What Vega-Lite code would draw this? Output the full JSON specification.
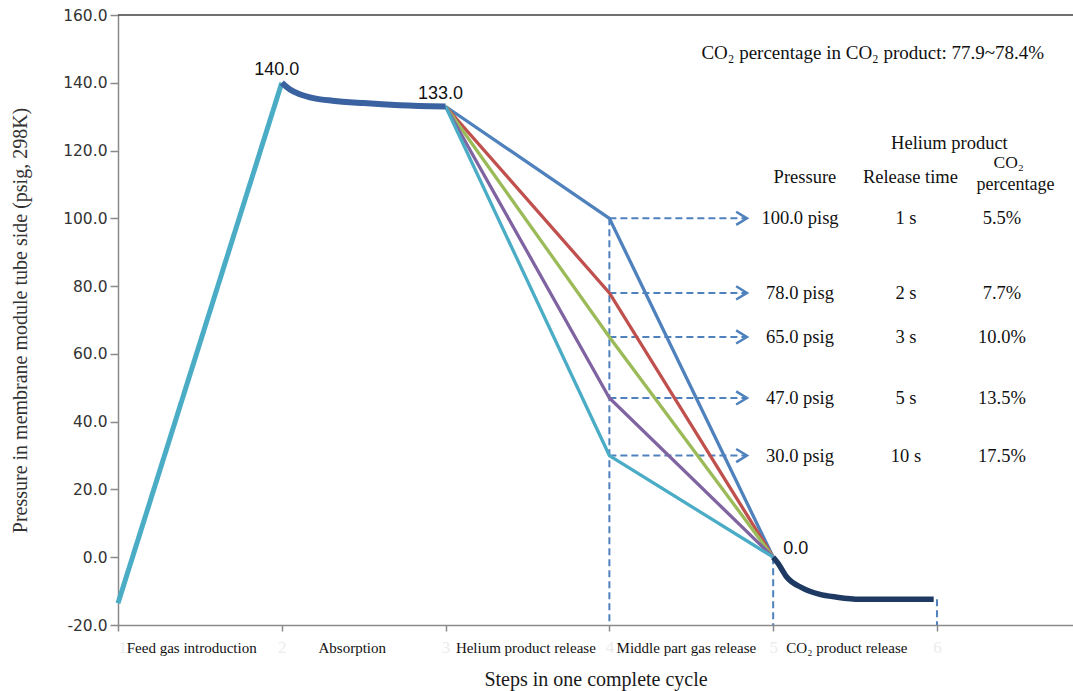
{
  "$schema": "https://vega.github.io/schema/vega-lite/v6.json",
  "width": 955,
  "height": 610,
  "autosize": {"type": "none"},
  "padding": {"left": 118, "top": 15, "right": 0, "bottom": 66},
  "background": "white",
  "config": {"view": {"stroke": null}},
  "datasets": {
    "curves": [
      {"series": "feed", "step": 1, "p": -13.6},
      {"series": "feed", "step": 2, "p": 140},
      {"series": "absorption", "step": 2, "p": 140},
      {"series": "absorption", "step": 2.05, "p": 138},
      {"series": "absorption", "step": 2.11, "p": 136.6},
      {"series": "absorption", "step": 2.2, "p": 135.4},
      {"series": "absorption", "step": 2.31, "p": 134.7},
      {"series": "absorption", "step": 2.5, "p": 134},
      {"series": "absorption", "step": 2.72, "p": 133.4},
      {"series": "absorption", "step": 3, "p": 133},
      {"series": "co2", "step": 5, "p": 0},
      {"series": "co2", "step": 5.03, "p": -1.8},
      {"series": "co2", "step": 5.08, "p": -5.7},
      {"series": "co2", "step": 5.18, "p": -9.1},
      {"series": "co2", "step": 5.28, "p": -10.9},
      {"series": "co2", "step": 5.39, "p": -11.8},
      {"series": "co2", "step": 5.53, "p": -12.4},
      {"series": "co2", "step": 5.98, "p": -12.4}
    ],
    "release": [
      {"series": "r100", "step": 3, "p": 133}, {"series": "r100", "step": 4, "p": 100}, {"series": "r100", "step": 5, "p": 0},
      {"series": "r78", "step": 3, "p": 133}, {"series": "r78", "step": 4, "p": 78}, {"series": "r78", "step": 5, "p": 0},
      {"series": "r65", "step": 3, "p": 133}, {"series": "r65", "step": 4, "p": 65}, {"series": "r65", "step": 5, "p": 0},
      {"series": "r47", "step": 3, "p": 133}, {"series": "r47", "step": 4, "p": 47}, {"series": "r47", "step": 5, "p": 0},
      {"series": "r30", "step": 3, "p": 133}, {"series": "r30", "step": 4, "p": 30}, {"series": "r30", "step": 5, "p": 0}
    ],
    "table": [
      {"p": 100, "plabel": "100.0 pisg", "time": "1 s", "co2": "5.5%"},
      {"p": 78, "plabel": "78.0 pisg", "time": "2 s", "co2": "7.7%"},
      {"p": 65, "plabel": "65.0 psig", "time": "3 s", "co2": "10.0%"},
      {"p": 47, "plabel": "47.0 psig", "time": "5 s", "co2": "13.5%"},
      {"p": 30, "plabel": "30.0 psig", "time": "10 s", "co2": "17.5%"}
    ],
    "drops": [
      {"step": 4, "top": 100},
      {"step": 5, "top": 0},
      {"step": 6, "top": -12.4}
    ],
    "steps": [
      {"mid": 1.45, "name": "Feed gas introduction"},
      {"mid": 2.43, "name": "Absorption"},
      {"mid": 3.49, "name": "Helium  product release"},
      {"mid": 4.47, "name": "Middle part gas release"},
      {"mid": 5.45, "name": "CO₂ product release"}
    ],
    "peaks": [
      {"step": 2, "p": 140},
      {"step": 3, "p": 133}
    ],
    "bottom": [
      {"step": 5, "p": 0}
    ],
    "one": [{}]
  },
  "layer": [
    {
      "data": {"name": "steps"},
      "mark": {"type": "text", "font": "Liberation Serif", "fontSize": 15, "color": "#111", "baseline": "middle", "dy": 23},
      "encoding": {
        "x": {
          "field": "mid", "type": "quantitative",
          "scale": {"domain": [1, 6.8305], "nice": false, "zero": false},
          "axis": {
            "values": [1, 2, 3, 4, 5, 6], "format": "d", "grid": false,
            "domainColor": "#8a8a8a", "domainWidth": 1.5, "tickColor": "#8a8a8a", "tickWidth": 1.5, "tickSize": 6,
            "labelFont": "Liberation Serif", "labelFontSize": 17, "labelColor": "#ececec", "labelPadding": 8,
            "title": "Steps in one complete cycle", "titleFont": "Liberation Serif", "titleFontSize": 20,
            "titleFontWeight": "normal", "titleColor": "#1a1a1a", "titleY": 54, "titleBaseline": "middle"
          }
        },
        "y": {
          "datum": -20, "type": "quantitative",
          "scale": {"domain": [-20, 160], "nice": false, "zero": false},
          "axis": {
            "values": [-20, 0, 20, 40, 60, 80, 100, 120, 140, 160], "grid": false,
            "labelExpr": "replace(format(datum.value, '.1f'), '\u2212', '-')",
            "domainColor": "#8a8a8a", "domainWidth": 1.5, "tickColor": "#8a8a8a", "tickWidth": 1.5, "tickSize": 8,
            "labelFont": "DejaVu Sans", "labelFontSize": 15.5, "labelColor": "#333", "labelPadding": 3,
            "title": "Pressure in membrane module tube side (psig, 298K)", "titleFont": "Liberation Serif",
            "titleFontSize": 20, "titleFontWeight": "normal", "titleColor": "#333", "titleX": -98, "titleBaseline": "middle"
          }
        },
        "text": {"field": "name"}
      }
    },
    {
      "data": {"name": "one"},
      "mark": {"type": "rule", "color": "#404040", "strokeWidth": 1.5},
      "encoding": {"y": {"datum": 160}}
    },
    {
      "data": {"name": "drops"},
      "mark": {"type": "rule", "color": "#4F81BD", "strokeWidth": 2, "strokeDash": [7, 4]},
      "encoding": {
        "x": {"field": "step", "type": "quantitative"},
        "y": {"field": "top", "type": "quantitative"},
        "y2": {"datum": -20}
      }
    },
    {
      "data": {"name": "table"},
      "mark": {"type": "rule", "color": "#4F81BD", "strokeWidth": 2, "strokeDash": [7, 4]},
      "encoding": {
        "x": {"datum": 4},
        "x2": {"datum": 4.835},
        "y": {"field": "p", "type": "quantitative"}
      }
    },
    {
      "data": {"name": "table"},
      "mark": {"type": "point", "shape": "M-1.8,-1.1L0,0L-1.8,1.1", "size": 144, "filled": false, "stroke": "#4F81BD", "strokeWidth": 2.5, "opacity": 1},
      "encoding": {
        "x": {"datum": 4.84},
        "y": {"field": "p", "type": "quantitative"}
      }
    },
    {
      "data": {"name": "release"},
      "mark": {"type": "line", "strokeWidth": 3.3},
      "encoding": {
        "x": {"field": "step", "type": "quantitative"},
        "y": {"field": "p", "type": "quantitative"},
        "color": {
          "field": "series", "type": "nominal", "legend": null,
          "scale": {"domain": ["r100", "r78", "r65", "r47", "r30"], "range": ["#4F81BD", "#C0504D", "#9BBB59", "#8064A2", "#4BACC6"]}
        }
      }
    },
    {
      "data": {"name": "curves"},
      "transform": [{"filter": "datum.series === 'feed'"}],
      "mark": {"type": "line", "color": "#4BACC6", "strokeWidth": 5},
      "encoding": {
        "x": {"field": "step", "type": "quantitative"},
        "y": {"field": "p", "type": "quantitative"}
      }
    },
    {
      "data": {"name": "curves"},
      "transform": [{"filter": "datum.series === 'absorption'"}],
      "mark": {"type": "line", "color": "#3A62A0", "strokeWidth": 6, "interpolate": "monotone"},
      "encoding": {
        "x": {"field": "step", "type": "quantitative"},
        "y": {"field": "p", "type": "quantitative"}
      }
    },
    {
      "data": {"name": "curves"},
      "transform": [{"filter": "datum.series === 'co2'"}],
      "mark": {"type": "line", "color": "#1F3A62", "strokeWidth": 5.5, "interpolate": "monotone"},
      "encoding": {
        "x": {"field": "step", "type": "quantitative"},
        "y": {"field": "p", "type": "quantitative"}
      }
    },
    {
      "data": {"name": "peaks"},
      "mark": {"type": "text", "font": "Liberation Sans", "fontSize": 18, "color": "#111", "baseline": "middle", "dx": -5, "dy": -13},
      "encoding": {
        "x": {"field": "step", "type": "quantitative"},
        "y": {"field": "p", "type": "quantitative"},
        "text": {"field": "p", "type": "quantitative", "format": ".1f"}
      }
    },
    {
      "data": {"name": "bottom"},
      "mark": {"type": "text", "font": "Liberation Sans", "fontSize": 18, "color": "#111", "align": "left", "baseline": "middle", "dx": 10, "dy": -8},
      "encoding": {
        "x": {"field": "step", "type": "quantitative"},
        "y": {"field": "p", "type": "quantitative"},
        "text": {"field": "p", "type": "quantitative", "format": ".1f"}
      }
    },
    {
      "data": {"name": "table"},
      "mark": {"type": "text", "font": "Liberation Serif", "fontSize": 18.5, "color": "#111", "baseline": "middle"},
      "encoding": {
        "x": {"datum": 5.164},
        "y": {"field": "p", "type": "quantitative"},
        "text": {"field": "plabel"}
      }
    },
    {
      "data": {"name": "table"},
      "mark": {"type": "text", "font": "Liberation Serif", "fontSize": 18.5, "color": "#111", "baseline": "middle"},
      "encoding": {
        "x": {"datum": 5.811},
        "y": {"field": "p", "type": "quantitative"},
        "text": {"field": "time"}
      }
    },
    {
      "data": {"name": "table"},
      "mark": {"type": "text", "font": "Liberation Serif", "fontSize": 18.5, "color": "#111", "baseline": "middle"},
      "encoding": {
        "x": {"datum": 6.397},
        "y": {"field": "p", "type": "quantitative"},
        "text": {"field": "co2"}
      }
    },
    {
      "data": {"name": "one"},
      "mark": {"type": "text", "text": "CO₂ percentage in CO₂ product: 77.9~78.4%", "font": "Liberation Serif", "fontSize": 19, "color": "#111", "baseline": "middle"},
      "encoding": {"x": {"datum": 5.608}, "y": {"datum": 148.7}}
    },
    {
      "data": {"name": "one"},
      "mark": {"type": "text", "text": "Helium product", "font": "Liberation Serif", "fontSize": 18.5, "color": "#111", "baseline": "middle"},
      "encoding": {"x": {"datum": 6.076}, "y": {"datum": 122.3}}
    },
    {
      "data": {"name": "one"},
      "mark": {"type": "text", "text": "Pressure", "font": "Liberation Serif", "fontSize": 18.5, "color": "#111", "baseline": "middle"},
      "encoding": {"x": {"datum": 5.194}, "y": {"datum": 112.3}}
    },
    {
      "data": {"name": "one"},
      "mark": {"type": "text", "text": "Release time", "font": "Liberation Serif", "fontSize": 18.5, "color": "#111", "baseline": "middle"},
      "encoding": {"x": {"datum": 5.838}, "y": {"datum": 112.3}}
    },
    {
      "data": {"name": "one"},
      "mark": {"type": "text", "text": "CO₂", "font": "Liberation Serif", "fontSize": 17.5, "color": "#111", "baseline": "middle"},
      "encoding": {"x": {"datum": 6.438}, "y": {"datum": 116.4}}
    },
    {
      "data": {"name": "one"},
      "mark": {"type": "text", "text": "percentage", "font": "Liberation Serif", "fontSize": 18, "color": "#111", "baseline": "middle"},
      "encoding": {"x": {"datum": 6.479}, "y": {"datum": 109.9}}
    }
  ]
}
